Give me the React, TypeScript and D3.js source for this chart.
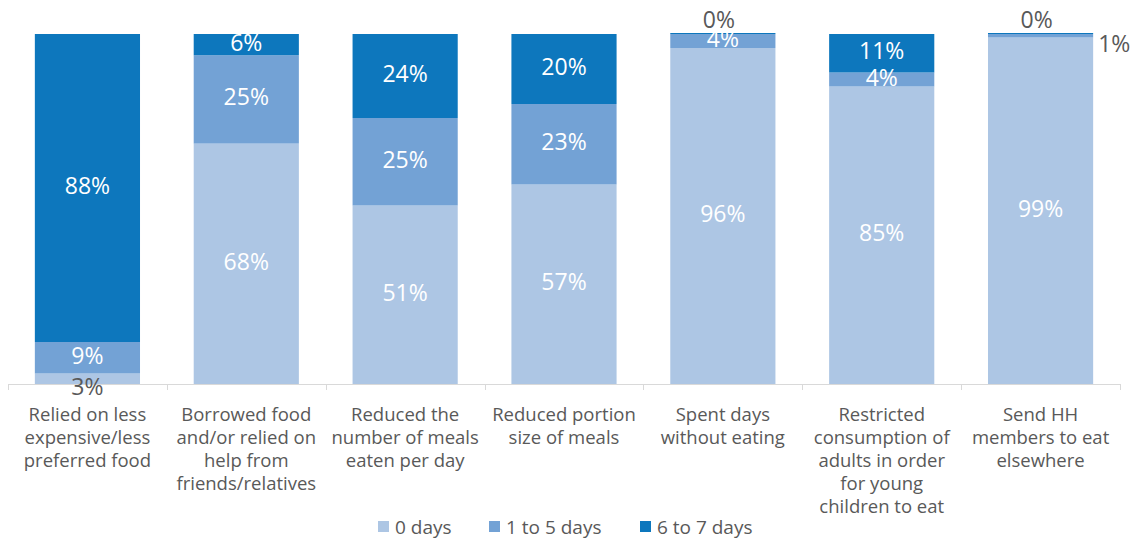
import { useEffect, useRef } from 'react'
import * as d3 from 'd3'

const categories = [
  'Relied on less expensive/less preferred food',
  'Borrowed food and/or relied on help from friends/relatives',
  'Reduced the number of meals eaten per day',
  'Reduced portion size of meals',
  'Spent days without eating',
  'Restricted consumption of adults in order for young children to eat',
  'Send HH members to eat elsewhere',
]

const categoryLines = [
  ['Relied on less', 'expensive/less', 'preferred food'],
  ['Borrowed food', 'and/or relied on', 'help from', 'friends/relatives'],
  ['Reduced the', 'number of meals', 'eaten per day'],
  ['Reduced portion', 'size of meals'],
  ['Spent days', 'without eating'],
  ['Restricted', 'consumption of', 'adults in order', 'for young', 'children to eat'],
  ['Send HH', 'members to eat', 'elsewhere'],
]

const seriesNames = ['0 days', '1 to 5 days', '6 to 7 days']
const zeroDays = [3, 68, 51, 57, 96, 85, 99]
const oneToFive = [9, 25, 25, 23, 4, 4, 1]
const sixToSeven = [88, 6, 24, 20, 0, 11, 0]

const colors = ['#adc6e4', '#73a2d5', '#0d77bd']

// labels that sit outside their segment: [category, series, where]
const outsideLabels: [number, number, string][] = [
  [0, 0, 'below'],
  [4, 2, 'above'],
  [6, 2, 'above'],
  [6, 1, 'right'],
]

const FONT = '"Open Sans", "Noto Sans", sans-serif'

export default function App() {
  const svgRef = useRef<SVGSVGElement>(null)

  useEffect(() => {
    const svgEl = svgRef.current
    if (!svgEl) return
    const width = 1139
    const height = 542

    const svg = d3.select(svgEl)
    svg.attr('width', width).attr('height', height).selectAll('*').remove()

    const rows = categories.map((c, i) => ({
      cat: c,
      s0: zeroDays[i],
      s1: oneToFive[i],
      s2: sixToSeven[i],
    }))
    const keys = ['s0', 's1', 's2']
    const stacked = d3.stack<any>().keys(keys).offset(d3.stackOffsetExpand)(rows)

    const x = d3.scaleBand<string>()
      .domain(categories)
      .range([8, 1120])
      .paddingInner(0.338)
      .paddingOuter(0.169)
    const y = d3.scaleLinear().domain([0, 1]).range([384, 34])

    // bars
    stacked.forEach((layer, si) => {
      svg.append('g')
        .selectAll('rect')
        .data(layer)
        .enter()
        .append('rect')
        .attr('x', d => x(d.data.cat)!)
        .attr('width', x.bandwidth())
        .attr('y', d => y(d[1]) - (d[1] - d[0] === 0 ? 1 : 0))
        .attr('height', d => Math.max(1, y(d[0]) - y(d[1])))
        .style('fill', colors[si])
    })

    // axis line + ticks at category boundaries
    const axis = svg.append('g')
    axis.append('line')
      .attr('x1', 8).attr('x2', 1120)
      .attr('y1', 384.5).attr('y2', 384.5)
      .style('stroke', '#d9d9d9')
    const bounds = categories.map(c => x(c)! - (x.step() - x.bandwidth()) / 2)
    bounds.push(1120)
    axis.selectAll('line.tick')
      .data(bounds)
      .enter()
      .append('line')
      .attr('class', 'tick')
      .attr('x1', d => Math.round(d) + 0.5).attr('x2', d => Math.round(d) + 0.5)
      .attr('y1', 384).attr('y2', 390)
      .style('stroke', '#d9d9d9')

    // data labels
    const values = [zeroDays, oneToFive, sixToSeven]
    stacked.forEach((layer, si) => {
      layer.forEach((d, ci) => {
        const cx = x(d.data.cat)! + x.bandwidth() / 2
        const mode = outsideLabels.find(o => o[0] === ci && o[1] === si)?.[2]
        let tx = cx
        let ty = (y(d[0]) + y(d[1])) / 2 - 2
        let anchor = 'middle'
        let fill = '#ffffff'
        if (mode === 'below') { ty = y(0) + 3; fill = '#595959' }
        if (mode === 'above') { ty = y(1) - 14; tx = cx - 4; fill = '#595959' }
        if (mode === 'right') { tx = x(d.data.cat)! + x.bandwidth() + 5; ty = y(1) + 10; anchor = 'start'; fill = '#595959' }
        svg.append('text')
          .attr('x', tx)
          .attr('y', ty)
          .attr('dy', '0.35em')
          .attr('text-anchor', anchor)
          .style('fill', fill)
          .style('font-size', '23px')
          .style('font-family', FONT)
          .text(`${values[si][ci]}%`)
      })
    })

    // category labels
    categories.forEach((c, ci) => {
      const cx = x(c)! + x.bandwidth() / 2
      const t = svg.append('text')
        .attr('text-anchor', 'middle')
        .style('fill', '#595959')
        .style('font-size', '18.5px')
        .style('font-family', FONT)
      categoryLines[ci].forEach((line, li) => {
        t.append('tspan')
          .attr('x', cx)
          .attr('y', 421 + li * 23)
          .text(line)
      })
    })

    // legend
    const legendX = [378, 489, 640]
    const lg = svg.append('g')
    seriesNames.forEach((name, i) => {
      lg.append('rect')
        .attr('x', legendX[i])
        .attr('y', 521)
        .attr('width', 11)
        .attr('height', 11)
        .style('fill', colors[i])
      lg.append('text')
        .attr('x', legendX[i] + 17)
        .attr('y', 527)
        .attr('dy', '0.35em')
        .style('fill', '#595959')
        .style('font-size', '19px')
        .style('font-family', FONT)
        .text(name)
    })
  }, [])

  return (
    <div style={{ position: 'absolute', left: 0, top: 0, background: '#fff' }}>
      <svg ref={svgRef} style={{ display: 'block' }} />
    </div>
  )
}
